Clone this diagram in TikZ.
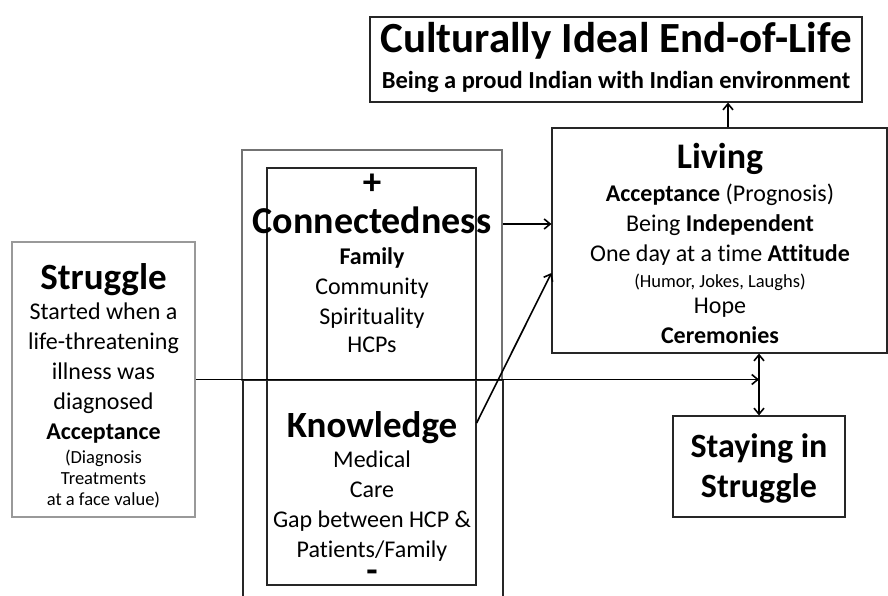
\documentclass[tikz,border=0pt]{standalone}
\usepackage{fontspec}
\setmainfont{Carlito}[Ligatures=NoCommon]
\usetikzlibrary{arrows.meta}

\newcommand{\bodyfont}{\fontsize{24}{30}\selectfont}
\newcommand{\headfont}{\fontsize{37}{37}\selectfont\bfseries}
\newcommand{\notefont}{\fontsize{18.5}{21}\selectfont}

\tikzset{
	frame/.style={draw=black!85, line width=1.2pt, inner sep=0pt},
	txt/.style={align=center, inner sep=0pt, font=\bodyfont},
	link/.style={line width=1.6pt, -{Straight Barb[length=6pt,width=10pt]}},
}

\begin{document}
\begin{tikzpicture}[x=1pt,y=-1pt]
	\useasboundingbox (0,0) rectangle (888,595);

	%frames
	\node[frame, minimum width=492, minimum height=85] (ideal) at (616,59.5) {};
	\node[frame, minimum width=335, minimum height=225] (living) at (719.5,240.5) {};
	\node[frame, draw=black!40, minimum width=183, minimum height=275] (struggle) at (103.5,379.5) {};
	\node[frame, minimum width=172, minimum height=101] (staying) at (759,466.5) {};
	\node[frame, draw=black!55, minimum width=260, minimum height=230] (outer) at (372,265) {};
	\node[frame, minimum width=209, minimum height=417] (inner) at (371.5,376.5) {};
	%lower half of the outer frame runs off the bottom
	\draw[line width=1.2pt, black!85] (243,600) -- (243,380) -- (503,380) -- (503,600);

	%texts
	\node[txt, anchor=north] (idealtxt) at (616,22) {{\fontsize{43}{43}\selectfont\bfseries Culturally Ideal End-of-Life}\\[6pt]
		{\fontsize{24.5}{30}\selectfont\bfseries Being a proud Indian with Indian environment}};
	\node[txt, anchor=north] (livingtxt) at (720,143) {{\fontsize{36}{36}\selectfont\bfseries Living}\\[3pt]
		\textbf{Acceptance} (Prognosis)\\
		Being \textbf{Independent}\\
		One day at a time \textbf{Attitude}\\[-4pt]
		{\notefont (Humor, Jokes, Laughs)}\\[-4pt]
		Hope\\
		\textbf{Ceremonies}};
	\node[txt, anchor=north] (struggletxt) at (103.5,263) {{\headfont Struggle}\\[0pt]
		Started when a\\
		life-threatening\\
		illness was\\
		diagnosed\\
		\textbf{Acceptance}\\[-6pt]
		{\notefont (Diagnosis}\\[-9pt]
		{\notefont Treatments}\\[-9pt]
		{\notefont at a face value)}};
	\node[txt, anchor=north] (conntxt) at (372,174) {{\headfont +}\\[9pt]
		{\fontsize{38}{38}\selectfont\bfseries Connectedness}\\[1pt]
		\textbf{Family}\\
		Community\\
		Spirituality\\[-2pt]
		HCPs};
	\node[txt, anchor=north] (knowtxt) at (372,411) {{\headfont Knowledge}\\[0pt]
		Medical\\
		Care\\
		Gap between HCP \&\\
		Patients/Family\\[-5pt]
		{\headfont -}};
	\node[txt, anchor=north, font=\fontsize{34}{34}\selectfont\bfseries, align=center] (stayingtxt) at (759,433) {Staying in\\[6pt] Struggle};

	%connectors
	\coordinate (upx) at (728,0);
	\coordinate (connrow) at (0,224);
	\coordinate (knowrow) at (0,423);
	\coordinate (livrow) at (0,273);
	\draw[link] (living.north -| upx) -- (ideal.south -| upx);
	\draw[link] (outer.east |- connrow) -- (living.west |- connrow);
	\draw[link] (inner.east |- knowrow) -- (living.west |- livrow);
	\draw[link] (struggle.east) -- (struggle.east -| staying.north);
	\draw[link, {Straight Barb[length=6pt,width=10pt]}-{Straight Barb[length=6pt,width=10pt]}] (living.south -| staying.north) -- (staying.north);
\end{tikzpicture}
\end{document}
